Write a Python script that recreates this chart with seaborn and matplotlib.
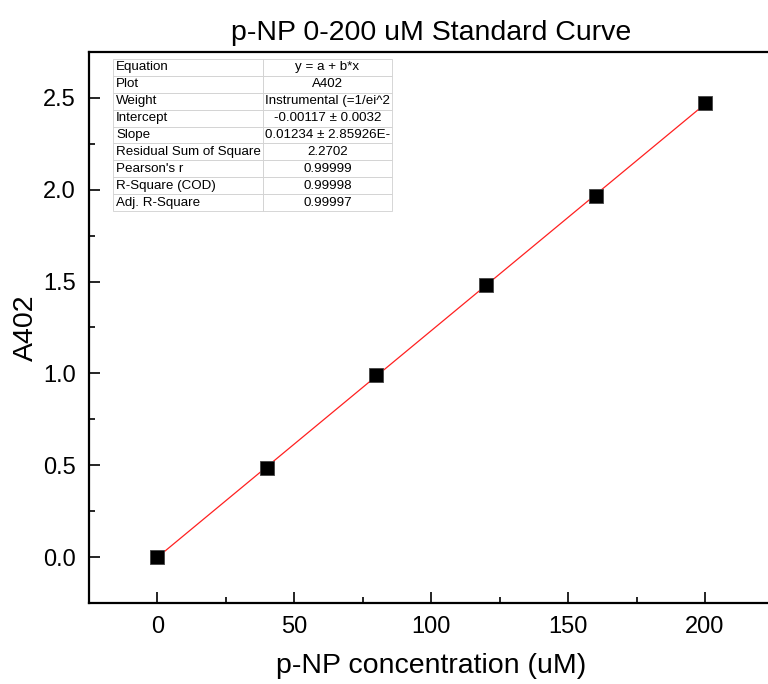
import matplotlib
matplotlib.use("Agg")
import matplotlib.pyplot as plt
import seaborn as sns
import numpy as np
import pandas as pd
from matplotlib.ticker import MultipleLocator

conc = [0, 40, 80, 120, 160, 200]
a402 = [0.0, 0.485, 0.99, 1.48, 1.965, 2.47]
intercept = -0.00117
slope = 0.01234

table_keys = ["Equation", "Plot", "Weight", "Intercept", "Slope",
              "Residual Sum of Square", "Pearson's r", "R-Square (COD)", "Adj. R-Square"]
table_vals = ["y = a + b*x", "A402", "Instrumental (=1/ei^2", "-0.00117 \u00b1 0.0032",
              "0.01234 \u00b1 2.85926E-", "2.2702", "0.99999", "0.99998", "0.99997"]

sns.set_style("white")
plt.rcParams['font.family'] = ['Liberation Sans', 'DejaVu Sans']
plt.rcParams['text.color'] = 'black'
plt.rcParams['axes.labelcolor'] = 'black'
plt.rcParams['xtick.color'] = 'black'
plt.rcParams['ytick.color'] = 'black'

df = pd.DataFrame({"conc": conc, "a402": a402})
fit_df = pd.DataFrame({"conc": conc, "fit": [intercept + slope * c for c in conc]})

fig = plt.figure(figsize=(7.68, 6.84), dpi=100)
ax = fig.add_axes([89/768, 1-603/684, (773.5-89)/768, (603-52)/684])

sns.lineplot(data=fit_df, x="conc", y="fit", ax=ax, color="#ff2020", linewidth=0.9, zorder=2)
sns.scatterplot(data=df, x="conc", y="a402", ax=ax, marker="s", s=115, color="black",
                edgecolor="#444444", linewidth=0.6, zorder=3)

ax.set_xlim(-25, 225)
ax.set_ylim(-0.25, 2.75)
ax.xaxis.set_major_locator(MultipleLocator(50))
ax.xaxis.set_minor_locator(MultipleLocator(25))
ax.yaxis.set_major_locator(MultipleLocator(0.5))
ax.yaxis.set_minor_locator(MultipleLocator(0.25))
ax.set_yticks(np.arange(0, 2.51, 0.5))
ax.set_yticklabels([f"{v:.1f}" for v in np.arange(0, 2.51, 0.5)])
ax.tick_params(which="major", direction="in", length=8, width=1.2, labelsize=17, pad=9.5,
               bottom=True, left=True, top=False, right=False, colors="black")
ax.tick_params(which="minor", direction="in", length=4, width=1.2,
               bottom=True, left=True, top=False, right=False, colors="black")
for sp in ax.spines.values():
    sp.set_linewidth(1.6)
    sp.set_color("black")

ax.set_xlabel("p-NP concentration (uM)", fontsize=20.5, labelpad=11, color="black")
ax.set_ylabel("A402", fontsize=20.5, labelpad=3, color="black")
ax.set_title("p-NP 0-200 uM Standard Curve", fontsize=20.5, pad=9, color="black")

tbl = ax.table(cellText=[[k, v] for k, v in zip(table_keys, table_vals)],
               colWidths=[150/279, 129/279],
               cellLoc="center",
               bbox=[(113-89)/684.5, 1-(211-52)/551, (392-113)/684.5, (211-59)/551])
tbl.auto_set_font_size(False)
tbl.set_fontsize(9.6)
for (r, c), cell in tbl.get_celld().items():
    cell.set_edgecolor("#d0d0d0")
    cell.set_linewidth(0.6)
    cell.set_facecolor("white")
    cell.get_text().set_color("black")
    if c == 0:
        cell.set_text_props(ha="left")
        cell.PAD = 0.02
tbl.set_zorder(5)

fig.savefig("out.png", dpi=100)
